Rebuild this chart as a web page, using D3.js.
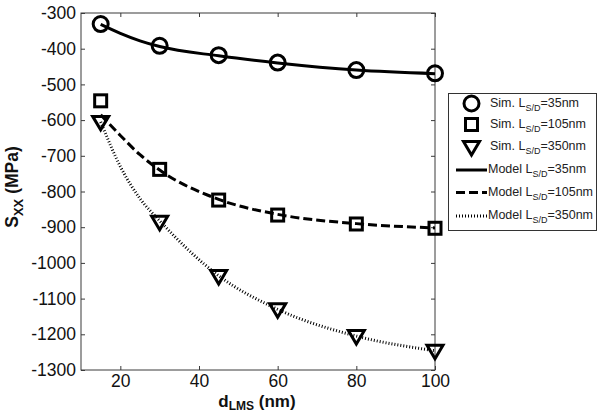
<!DOCTYPE html>
<html><head><meta charset="utf-8">
<script src="https://cdn.jsdelivr.net/npm/d3@7"></script>
<style>body{margin:0;background:#fff}svg{display:block;font-family:Arial,"Liberation Sans",sans-serif}</style>
</head><body><svg id="c" width="604" height="412"></svg>
<script>
const simX = [15, 30, 45, 60, 80, 100];
const sim35 = [-331, -392, -418, -439, -460, -469];
const sim105 = [-546, -738, -824, -866, -891, -903];
const sim350 = [-605, -885, -1037, -1130, -1205, -1246];
const modelX = [15, 20, 25, 30, 45, 60, 80, 100];
const model35 = [-332, -357, -378, -394, -420, -440, -460, -470];
const model105 = [-585, -643, -697, -740, -822, -864, -890, -902];
const model350 = [-605, -730, -820, -882, -1036, -1130, -1205, -1246];
const xTicks = [20, 40, 60, 80, 100];
const yTicks = [-300, -400, -500, -600, -700, -800, -900, -1000, -1100, -1200, -1300];
const legendLabels = ["35nm", "105nm", "350nm"];

const svg = d3.select("#c");
const L = 81, R = 435, T = 13, B = 370;
const x = d3.scaleLinear().domain([10, 100]).range([L, R]);
const y = d3.scaleLinear().domain([-1300, -300]).range([B, T]);
const axisCol = "#3a3a3a";

svg.append("rect").attr("x", L).attr("y", T).attr("width", R - L).attr("height", B - T)
  .attr("fill", "none").attr("stroke", axisCol).attr("stroke-width", 1);

const gxb = svg.append("g").attr("transform", `translate(0,${B})`)
  .call(d3.axisBottom(x).tickValues(xTicks).tickSize(-4).tickPadding(5).tickFormat(d3.format("d")));
const gxt = svg.append("g").attr("transform", `translate(0,${T})`)
  .call(d3.axisTop(x).tickValues(xTicks).tickSize(-4).tickFormat(""));
const gyl = svg.append("g").attr("transform", `translate(${L},0)`)
  .call(d3.axisLeft(y).tickValues(yTicks).tickSize(-4).tickPadding(5).tickFormat(d3.format("d")));
const gyr = svg.append("g").attr("transform", `translate(${R},0)`)
  .call(d3.axisRight(y).tickValues(yTicks).tickSize(-4).tickFormat(""));
[gxb, gxt, gyl, gyr].forEach(g => {
  g.select(".domain").remove();
  g.selectAll("line").attr("stroke", axisCol);
  g.selectAll("text").attr("font-size", 17.5).attr("fill", "#111").attr("font-family", "Arial, 'Liberation Sans', sans-serif");
});
gyl.selectAll("text").text(d => d < 0 ? "-" + Math.abs(d) : d);

const yl = svg.append("text").attr("transform", `translate(18,187) rotate(-90)`)
  .attr("text-anchor", "middle").attr("font-size", 17.5).attr("font-weight", "bold").attr("fill", "#111");
yl.append("tspan").text("S");
yl.append("tspan").attr("font-size", 13).attr("dy", 5).text("XX");
yl.append("tspan").attr("dy", -5).text(" (MPa)");

const xl = svg.append("text").attr("x", 257).attr("y", 406.5)
  .attr("text-anchor", "middle").attr("font-size", 17).attr("font-weight", "bold").attr("fill", "#111");
xl.append("tspan").text("d");
xl.append("tspan").attr("font-size", 12).attr("dy", 3.5).text("LMS");
xl.append("tspan").attr("dy", -3.5).text(" (nm)");

const styles = [{ dash: null }, { dash: "9,4" }, { dash: "1,2" }];
const models = [model35, model105, model350];
const sims = [sim35, sim105, sim350];
const line = d3.line().x(d => x(d[0])).y(d => y(d[1])).curve(d3.curveMonotoneX);
models.forEach((m, i) => {
  svg.append("path").datum(modelX.map((v, j) => [v, m[j]]))
    .attr("d", line).attr("fill", "none").attr("stroke", "#000")
    .attr("stroke-width", 3).attr("stroke-dasharray", styles[i].dash);
});

function marker(g, type, cx, cy) {
  if (type === 0) g.append("circle").attr("cx", cx).attr("cy", cy).attr("r", 7.5);
  else if (type === 1) g.append("rect").attr("x", cx - 6).attr("y", cy - 6).attr("width", 12).attr("height", 12);
  else g.append("path").attr("d", `M${cx - 8},${cy - 5.5}L${cx + 8},${cy - 5.5}L${cx},${cy + 8}Z`);
}
sims.forEach((s, i) => {
  const g = svg.append("g").attr("fill", "none").attr("stroke", "#000").attr("stroke-width", 3);
  simX.forEach((v, j) => marker(g, i, x(v), y(s[j])));
});

const lg = svg.append("g");
lg.append("rect").attr("x", 448.5).attr("y", 93.5).attr("width", 148).attr("height", 137)
  .attr("fill", "#fff").attr("stroke", "#333").attr("stroke-width", 1);
const rows = [103.5, 124.5, 147, 170, 192.5, 216];
for (let i = 0; i < 6; i++) {
  const cy = rows[i];
  if (i < 3) {
    const g = lg.append("g").attr("fill", "none").attr("stroke", "#000").attr("stroke-width", 3);
    marker(g, i, 471.5, cy);
  } else {
    lg.append("line").attr("x1", 456).attr("x2", 487).attr("y1", cy).attr("y2", cy)
      .attr("stroke", "#000").attr("stroke-width", 3).attr("stroke-dasharray", styles[i - 3].dash);
  }
  const t = lg.append("text").attr("x", i < 3 ? 490 : 488).attr("y", cy + 3).attr("font-size", 12.5).attr("fill", "#222");
  t.append("tspan").text((i < 3 ? "Sim. L" : "Model L"));
  t.append("tspan").attr("font-size", 9).attr("dy", 4).text("S/D");
  t.append("tspan").attr("dy", -4).text("=" + legendLabels[i % 3]);
}
</script></body></html>
